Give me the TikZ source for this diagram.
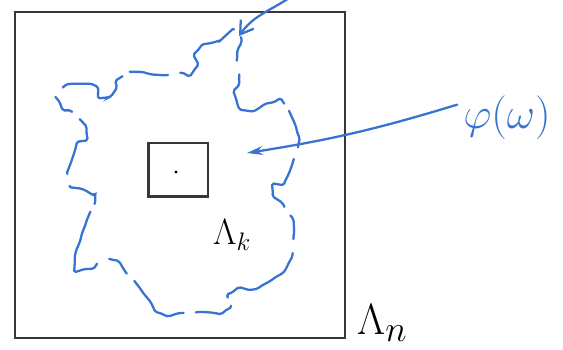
\documentclass[tikz,border=0pt]{standalone}
\usepackage{amsmath, amssymb}
\usetikzlibrary{arrows.meta, positioning, decorations.pathmorphing}

\definecolor{penblue}{RGB}{55,115,210}
\definecolor{pencil}{RGB}{55,55,55}

\begin{document}
\begin{tikzpicture}[x=0.02cm, y=-0.02cm,
    box/.style={draw=pencil, rectangle, inner sep=0pt},
    ink/.style={penblue, line width=1.3pt, line cap=round},
    cluster/.style={ink, decorate, decoration={random steps, segment length=5pt, amplitude=0.6pt},
        rounded corners=1pt,
        dash pattern=on 38pt off 7pt on 22pt off 5pt on 50pt off 8pt on 14pt off 6pt}]
    \useasboundingbox (0,0) rectangle (563,350);
    \pgfmathsetseed{11}

    \node (bigbox) [box, line width=1.2pt, minimum width=6.6cm, minimum height=6.52cm] at (180,175) {};
    \node (smallbox) [box, line width=1.7pt, minimum width=1.2cm, minimum height=1.08cm] at (178,170) {};
    \node (site) [circle, fill=black, inner sep=0.7pt] at (176,172) {};
    \node (lamk) [below right=0.3cm and -0.05cm of smallbox.south east, font=\fontsize{20}{22}\selectfont] {$\Lambda_k$};
    \node (lamn) [right=0.1cm of bigbox.south east, yshift=0.32cm, font=\fontsize{29}{32}\selectfont] {$\Lambda_n$};
    \node (phi) [penblue, font=\fontsize{29}{32}\selectfont] at (507,118) {$\varphi(\omega)$};

    % boundary of the cluster
    \draw [cluster] plot [smooth cycle, tension=0.55] coordinates {
        (240,36) (222,40) (201,47) (197,66) (184,72) (162,75) (140,72) (126,74)
        (118,86) (111,97) (100,88) (82,84) (65,86) (59,100) (72,112) (86,129)
        (77,144) (68,176) (83,189) (95,192) (86,223) (75,259) (83,269) (108,259)
        (126,273) (144,294) (158,312) (180,313) (201,312) (223,312) (230,294)
        (259,287) (287,266) (294,230) (287,212) (273,194) (284,183) (294,158)
        (298,136) (287,108) (276,102) (251,111) (237,101) (239,83) (237,61)};

    \coordinate (core) at (247,153);
    \coordinate (offtop) at (292,-4);
    \coordinate (edge) at (239,36);
    \draw [ink, -{Stealth[length=9pt, width=5pt, open]}] (phi.165) to[bend left=4] (core);
    \draw [ink, -{Straight Barb[length=7pt, width=9pt]}] (offtop) to[out=215, in=55] (edge);
\end{tikzpicture}
\end{document}
